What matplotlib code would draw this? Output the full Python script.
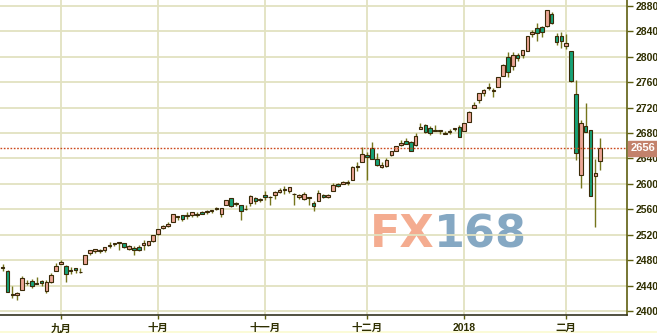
#!/usr/bin/env python3
import numpy as np
import matplotlib
matplotlib.use('Agg')
import matplotlib.pyplot as plt
import matplotlib.transforms as mtransforms
from matplotlib.patches import Rectangle

##########################################################################################
# DATA (daily candles, trading days only)
##########################################################################################

dates=[
'2017-08-16','2017-08-17','2017-08-18','2017-08-21','2017-08-22','2017-08-23','2017-08-24','2017-08-25',
'2017-08-28','2017-08-29','2017-08-30','2017-08-31','2017-09-01','2017-09-05','2017-09-06','2017-09-07',
'2017-09-08','2017-09-11','2017-09-12','2017-09-13','2017-09-14','2017-09-15','2017-09-18','2017-09-19',
'2017-09-20','2017-09-21','2017-09-22','2017-09-25','2017-09-26','2017-09-27','2017-09-28','2017-09-29',
'2017-10-02','2017-10-03','2017-10-04','2017-10-05','2017-10-06','2017-10-09','2017-10-10','2017-10-11',
'2017-10-12','2017-10-13','2017-10-16','2017-10-17','2017-10-18','2017-10-19','2017-10-20','2017-10-23',
'2017-10-24','2017-10-25','2017-10-26','2017-10-27','2017-10-30','2017-10-31','2017-11-01','2017-11-02',
'2017-11-03','2017-11-06','2017-11-07','2017-11-08','2017-11-09','2017-11-10','2017-11-13','2017-11-14',
'2017-11-15','2017-11-16','2017-11-17','2017-11-20','2017-11-21','2017-11-22','2017-11-24','2017-11-27',
'2017-11-28','2017-11-29','2017-11-30','2017-12-01','2017-12-04','2017-12-05','2017-12-06','2017-12-07',
'2017-12-08','2017-12-11','2017-12-12','2017-12-13','2017-12-14','2017-12-15','2017-12-18','2017-12-19',
'2017-12-20','2017-12-21','2017-12-22','2017-12-26','2017-12-27','2017-12-28','2017-12-29','2018-01-02',
'2018-01-03','2018-01-04','2018-01-05','2018-01-08','2018-01-09','2018-01-10','2018-01-11','2018-01-12',
'2018-01-16','2018-01-17','2018-01-18','2018-01-19','2018-01-22','2018-01-23','2018-01-24','2018-01-25',
'2018-01-26','2018-01-29','2018-01-30','2018-01-31','2018-02-01','2018-02-02','2018-02-05','2018-02-06',
'2018-02-07','2018-02-08','2018-02-09','2018-02-12',
]

opens=[
2468.6,2463.0,2427.6,2425.5,2433.8,2444.9,2447.9,2444.7,2447.4,2431.9,2446.1,2462.7,2474.4,2470.4,2463.8,2468.1,
2462.3,2474.5,2491.9,2493.9,2494.6,2495.7,2502.5,2506.3,2506.8,2507.2,2497.3,2499.4,2501.0,2503.3,2503.4,2510.0,
2521.2,2530.3,2533.5,2540.9,2547.4,2551.4,2550.0,2550.6,2552.9,2555.7,2555.6,2557.2,2562.9,2553.4,2567.6,2578.1,
2568.7,2566.5,2560.1,2570.3,2577.8,2576.0,2583.2,2579.5,2581.9,2587.5,2592.1,2588.7,2584.0,2580.2,2576.5,2577.8,
2569.5,2573.0,2582.9,2579.5,2589.2,2600.3,2600.4,2602.7,2605.9,2627.8,2633.9,2645.1,2657.2,2639.8,2626.2,2628.4,
2646.2,2652.2,2661.7,2667.6,2665.9,2660.6,2685.9,2692.7,2688.2,2683.0,2684.2,2679.1,2682.1,2686.1,2689.2,2683.7,
2697.9,2719.3,2731.3,2742.7,2751.2,2745.6,2753.0,2770.2,2799.0,2785.0,2802.4,2802.6,2809.2,2835.1,2845.4,2846.2,
2847.5,2867.2,2832.7,2832.4,2816.5,2808.9,2741.1,2614.8,2691.0,2685.0,2613.0,2636.8,
]
highs=[
2474.9,2465.0,2440.3,2430.6,2454.8,2448.9,2450.4,2454.0,2449.1,2449.2,2460.3,2475.0,2480.4,2472.0,2469.6,2468.6,
2467.1,2489.0,2496.8,2498.4,2498.4,2500.2,2508.3,2507.8,2508.9,2507.2,2503.5,2502.5,2503.5,2511.8,2510.8,2519.4,
2529.2,2535.1,2540.5,2552.5,2549.4,2551.8,2555.2,2555.2,2555.3,2557.7,2559.5,2559.7,2564.1,2562.4,2575.4,2578.3,
2572.2,2567.4,2567.1,2583.0,2580.0,2578.3,2588.4,2581.1,2588.4,2593.4,2597.0,2595.5,2586.5,2583.8,2587.7,2579.7,
2572.8,2590.1,2584.0,2584.6,2601.2,2600.9,2604.2,2606.4,2627.7,2634.9,2657.7,2650.6,2665.2,2648.7,2634.4,2641.0,
2651.7,2660.3,2669.7,2671.9,2668.1,2679.6,2695.0,2694.4,2691.0,2692.6,2685.4,2682.7,2685.6,2687.7,2692.1,2695.9,
2714.4,2729.3,2743.5,2748.5,2759.1,2750.8,2767.6,2787.9,2807.5,2807.0,2805.8,2810.3,2833.0,2842.2,2853.0,2848.6,
2872.9,2870.6,2837.8,2839.3,2836.0,2808.9,2763.4,2701.0,2727.7,2685.3,2638.7,2672.6,
]
lows=[
2463.9,2430.0,2420.7,2417.4,2433.7,2441.4,2436.2,2442.2,2439.0,2428.2,2443.8,2462.7,2473.9,2446.6,2459.2,2460.3,
2459.4,2474.5,2488.0,2492.1,2491.4,2493.2,2499.9,2503.2,2496.7,2499.0,2496.5,2488.0,2495.1,2495.9,2502.9,2508.0,
2520.4,2528.9,2531.8,2540.0,2543.8,2541.6,2544.9,2548.0,2548.3,2552.1,2552.6,2554.7,2559.7,2547.9,2567.6,2564.3,
2565.6,2544.0,2559.8,2565.9,2568.3,2572.2,2574.9,2566.2,2576.8,2585.7,2584.4,2585.0,2566.3,2575.6,2574.5,2566.6,
2557.5,2573.0,2577.6,2578.2,2589.2,2595.2,2600.4,2598.9,2605.4,2620.3,2633.9,2605.5,2639.0,2627.7,2624.8,2626.5,
2644.1,2651.5,2659.8,2662.9,2652.0,2659.1,2685.9,2680.7,2676.1,2682.4,2678.1,2678.0,2678.9,2682.7,2673.6,2682.4,
2697.8,2719.1,2727.9,2737.6,2747.9,2736.1,2752.8,2769.6,2768.6,2778.4,2792.6,2798.1,2808.1,2830.6,2824.8,2830.9,
2846.2,2851.5,2818.3,2813.0,2812.7,2760.0,2638.2,2593.1,2681.3,2580.6,2532.7,2622.5,
]
closes=[
2468.1,2430.0,2425.6,2428.4,2452.5,2444.0,2439.0,2443.1,2444.2,2446.3,2457.6,2471.7,2476.6,2457.9,2465.5,2465.1,
2461.4,2488.1,2496.5,2498.4,2495.6,2500.2,2503.9,2506.7,2508.2,2500.6,2502.2,2496.7,2496.8,2507.0,2510.1,2519.4,
2529.1,2534.6,2537.7,2552.1,2549.3,2544.7,2550.6,2555.2,2550.9,2553.2,2557.6,2559.4,2561.3,2562.1,2575.2,2565.0,
2569.1,2557.2,2560.4,2581.1,2572.8,2575.3,2579.4,2579.9,2587.8,2591.1,2590.6,2594.4,2584.6,2582.3,2584.8,2578.9,
2564.6,2585.6,2578.9,2582.1,2599.0,2597.1,2602.4,2601.4,2627.0,2626.1,2647.6,2642.2,2639.4,2629.6,2629.3,2637.0,
2651.5,2660.0,2664.1,2662.9,2652.0,2675.8,2690.2,2681.5,2679.3,2684.6,2683.3,2680.5,2682.6,2687.5,2673.6,2695.8,
2713.1,2724.0,2743.2,2747.7,2751.3,2748.2,2767.6,2786.2,2776.4,2802.6,2798.0,2810.3,2833.0,2839.1,2837.5,2839.3,
2872.9,2853.5,2822.4,2823.8,2822.0,2762.1,2648.9,2695.1,2681.7,2581.0,2617.0,2656.0,
]

month_starts=['2017-09-01','2017-10-02','2017-11-01','2017-12-01','2018-01-02','2018-02-01']
month_labels=['九月','十月','十一月','十二月','2018','二月']
last_price=2656

##########################################################################################
# STYLE
##########################################################################################
plt.rcParams['font.family']=['Liberation Sans','Noto Sans CJK SC','DejaVu Sans']

up_fill='#eba595'
down_fill='#16a277'
edge_col='#3a2a08'
wick_col='#75751c'
grid_col='#e2e2c0'
axis_col='#5f5f10'
label_col='#2f2f00'

fig=plt.figure(figsize=(6.57,3.33),dpi=100)
ax=fig.add_axes([0.0,0.054,0.9543,0.946])

# faint yellow strip along the bottom edge (kept behind everything)
strip=Rectangle((0,0),1,0.007,transform=fig.transFigure,facecolor='#fbfbd8',edgecolor='none',zorder=-10)
fig.add_artist(strip)

o=np.array(opens); h=np.array(highs); l=np.array(lows); c=np.array(closes)
x=np.arange(len(dates))
up=c>=o

# wicks then bodies
ax.vlines(x,l,h,color=wick_col,linewidth=1.0,zorder=2)
body_lo=np.minimum(o,c)
body_h=np.maximum(np.abs(c-o),0.6)
ax.bar(x[up],body_h[up],bottom=body_lo[up],width=0.74,color=up_fill,edgecolor=edge_col,linewidth=0.8,zorder=3)
ax.bar(x[~up],body_h[~up],bottom=body_lo[~up],width=0.74,color=down_fill,edgecolor=edge_col,linewidth=0.8,zorder=3)

# last price line + tag
ax.axhline(last_price,color='#cc4a1e',linestyle=(0,(1.2,1.2)),linewidth=1.0,zorder=4)
trans=mtransforms.blended_transform_factory(ax.transAxes,ax.transData)
ax.text(1.006,last_price,f'{last_price}',transform=trans,ha='left',va='center',color='white',
        fontsize=8,fontweight='bold',zorder=6,clip_on=False,
        bbox=dict(boxstyle='square,pad=0.22',facecolor='#c3826c',edgecolor='#c3826c'))

# watermark
fig.text(0.563,0.258,'FX',color='#f4a88a',fontsize=32,fontweight='bold',family='DejaVu Sans',
         ha='left',va='baseline',alpha=0.95,zorder=-5)
fig.text(0.660,0.258,'168',color='#7fa3c0',fontsize=32,fontweight='bold',family='DejaVu Sans',
         ha='left',va='baseline',alpha=0.95,zorder=-5)
ax.set_facecolor('none')

# axes
ax.set_xlim(-0.55,128.5)
ax.set_ylim(2394,2889)
ax.set_yticks(np.arange(2400,2881,40))
ax.yaxis.tick_right()
ax.set_xticks([dates.index(d) for d in month_starts])
ax.set_xticklabels(month_labels)
ax.tick_params(axis='y',colors=axis_col,length=4,width=1,pad=2,labelsize=7.5,labelcolor=label_col)
ax.tick_params(axis='x',colors=axis_col,length=3,width=1,pad=3,labelsize=7.5,labelcolor=label_col)
for t in ax.get_yticklabels()+ax.get_xticklabels():
    t.set_fontweight('bold')
ax.grid(True,color=grid_col,linewidth=1.3,zorder=1)
ax.set_axisbelow(True)
for s in ['top','left']:
    ax.spines[s].set_visible(False)
ax.spines['right'].set_color(axis_col)
ax.spines['right'].set_linewidth(1.2)
ax.spines['bottom'].set_color('#333320')
ax.spines['bottom'].set_linewidth(1.2)

fig.savefig('out.png',dpi=100)
